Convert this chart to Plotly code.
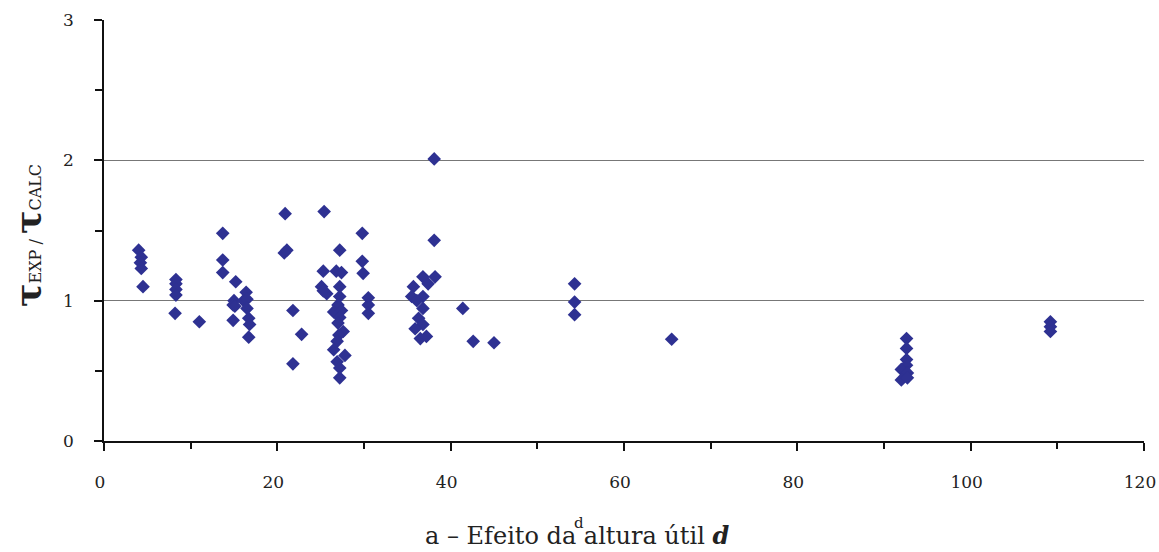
import plotly.graph_objects as go

# effective depth d (x) and ratio tau_exp / tau_calc (y)
d_vals = [
    4.0, 4.3, 4.2, 4.3, 4.5,
    8.3, 8.3, 8.3, 8.3, 8.2,
    11.0,
    13.7, 13.7, 13.7,
    15.2, 15.0, 14.9, 15.1, 14.9,
    16.1, 16.4, 16.5, 16.5, 16.7, 16.8, 16.7,
    20.9, 20.8, 21.1, 21.8, 21.8, 22.8,
    25.4, 25.3, 25.1, 25.7, 25.3,
    26.8, 27.4, 27.2, 27.2, 27.2, 27.0, 26.5, 27.4, 27.2, 27.0, 27.6, 27.1,
    26.9, 26.5, 27.8, 26.9, 27.2, 27.2,
    29.8, 29.8, 29.9, 30.5, 30.5, 30.5,
    38.1, 38.1, 36.8, 38.2, 37.4, 35.7, 35.5, 36.8, 36.1, 36.8, 36.3, 36.8,
    35.9, 36.5, 37.2,
    41.4, 42.6, 45.0,
    54.3, 54.3, 54.3,
    65.5,
    92.6, 92.6, 92.6, 92.6, 92.0, 92.7, 92.0, 92.7,
    109.2, 109.2, 109.2,
]
ratio_vals = [
    1.36, 1.31, 1.27, 1.23, 1.10,
    1.15, 1.12, 1.08, 1.04, 0.91,
    0.85,
    1.48, 1.29, 1.20,
    1.135, 1.00, 0.97, 0.96, 0.86,
    1.00, 1.06, 1.01, 0.945, 0.875, 0.83, 0.74,
    1.62, 1.34, 1.36, 0.93, 0.55, 0.76,
    1.635, 1.21, 1.10, 1.05, 1.07,
    1.21, 1.20, 1.36, 1.10, 1.03, 0.97, 0.92, 0.93, 0.88, 0.84, 0.78, 0.755,
    0.71, 0.65, 0.61, 0.565, 0.52, 0.45,
    1.48, 1.28, 1.195, 1.02, 0.97, 0.91,
    2.01, 1.43, 1.17, 1.17, 1.12, 1.10, 1.03, 1.03, 1.00, 0.945, 0.875, 0.83,
    0.80, 0.73, 0.745,
    0.945, 0.71, 0.70,
    1.12, 0.99, 0.90,
    0.725,
    0.73, 0.66, 0.58, 0.54, 0.51, 0.485, 0.435, 0.45,
    0.85, 0.815, 0.78,
]

x_ticks = [0, 20, 40, 60, 80, 100, 120]
y_ticks = [0, 1, 2, 3]

FONT = "DejaVu Serif"

fig = go.Figure()
fig.add_trace(go.Scatter(
    x=d_vals, y=ratio_vals, mode="markers",
    marker=dict(symbol="diamond", size=10.5, color="#2E3192", line=dict(width=0)),
    showlegend=False, cliponaxis=False,
))

fig.update_layout(
    width=1159, height=552,
    margin=dict(l=104, r=15, t=20, b=111, autoexpand=False),
    paper_bgcolor="white", plot_bgcolor="white",
    font=dict(family=FONT, size=17, color="#222"),
    xaxis=dict(
        range=[-0.0001, 120.0001], tickvals=x_ticks,
        ticktext=[str(v) for v in x_ticks],
        showgrid=False, zeroline=False, showline=True, linecolor="#111", linewidth=1.5,
        ticks="outside", ticklen=8, tickcolor="#111", tickwidth=1.5,
        minor=dict(dtick=10, ticks="outside", ticklen=6, tickcolor="#111", showgrid=False),
        ticklabelstandoff=17, ticklabelshift=-4, ticklabeloverflow="allow",
    ),
    yaxis=dict(
        range=[-0.00001, 3.00001], tickvals=y_ticks,
        ticktext=[f"{v}\u2003" for v in y_ticks],
        showgrid=True, gridcolor="#777", gridwidth=1,
        zeroline=False, showline=True, linecolor="#111", linewidth=1.5,
        ticks="outside", ticklen=8, tickcolor="#111", tickwidth=1.5,
        minor=dict(dtick=0.5, ticks="outside", ticklen=7, tickcolor="#111", showgrid=False),
        ticklabeloverflow="allow",
    ),
    annotations=[
        dict(
            text="<span style='font-size:35px'><b>τ</b></span>EXP / <span style='font-size:35px'><b>τ</b></span>CALC",
            xref="paper", yref="paper", x=-0.072, y=0.487, textangle=-90,
            showarrow=False, xanchor="center", yanchor="middle",
            font=dict(family=FONT, size=16, color="#222"),
        ),
        dict(
            text="d", xref="paper", yref="paper", x=0.457, y=-0.194,
            showarrow=False, xanchor="center", yanchor="middle",
            font=dict(family=FONT, size=15, color="#222"),
        ),
        dict(
            text="a – Efeito da altura útil <b><i>d</i></b>", xref="paper", yref="paper",
            x=0.455, y=-0.2625, showarrow=False, xanchor="center", yanchor="bottom",
            font=dict(family=FONT, size=24, color="#222"),
        ),
    ],
)

fig.write_html(
    "out.html",
    config={"displayModeBar": False},
    post_script="document.body.style.margin='0';document.body.style.overflow='hidden';",
)
